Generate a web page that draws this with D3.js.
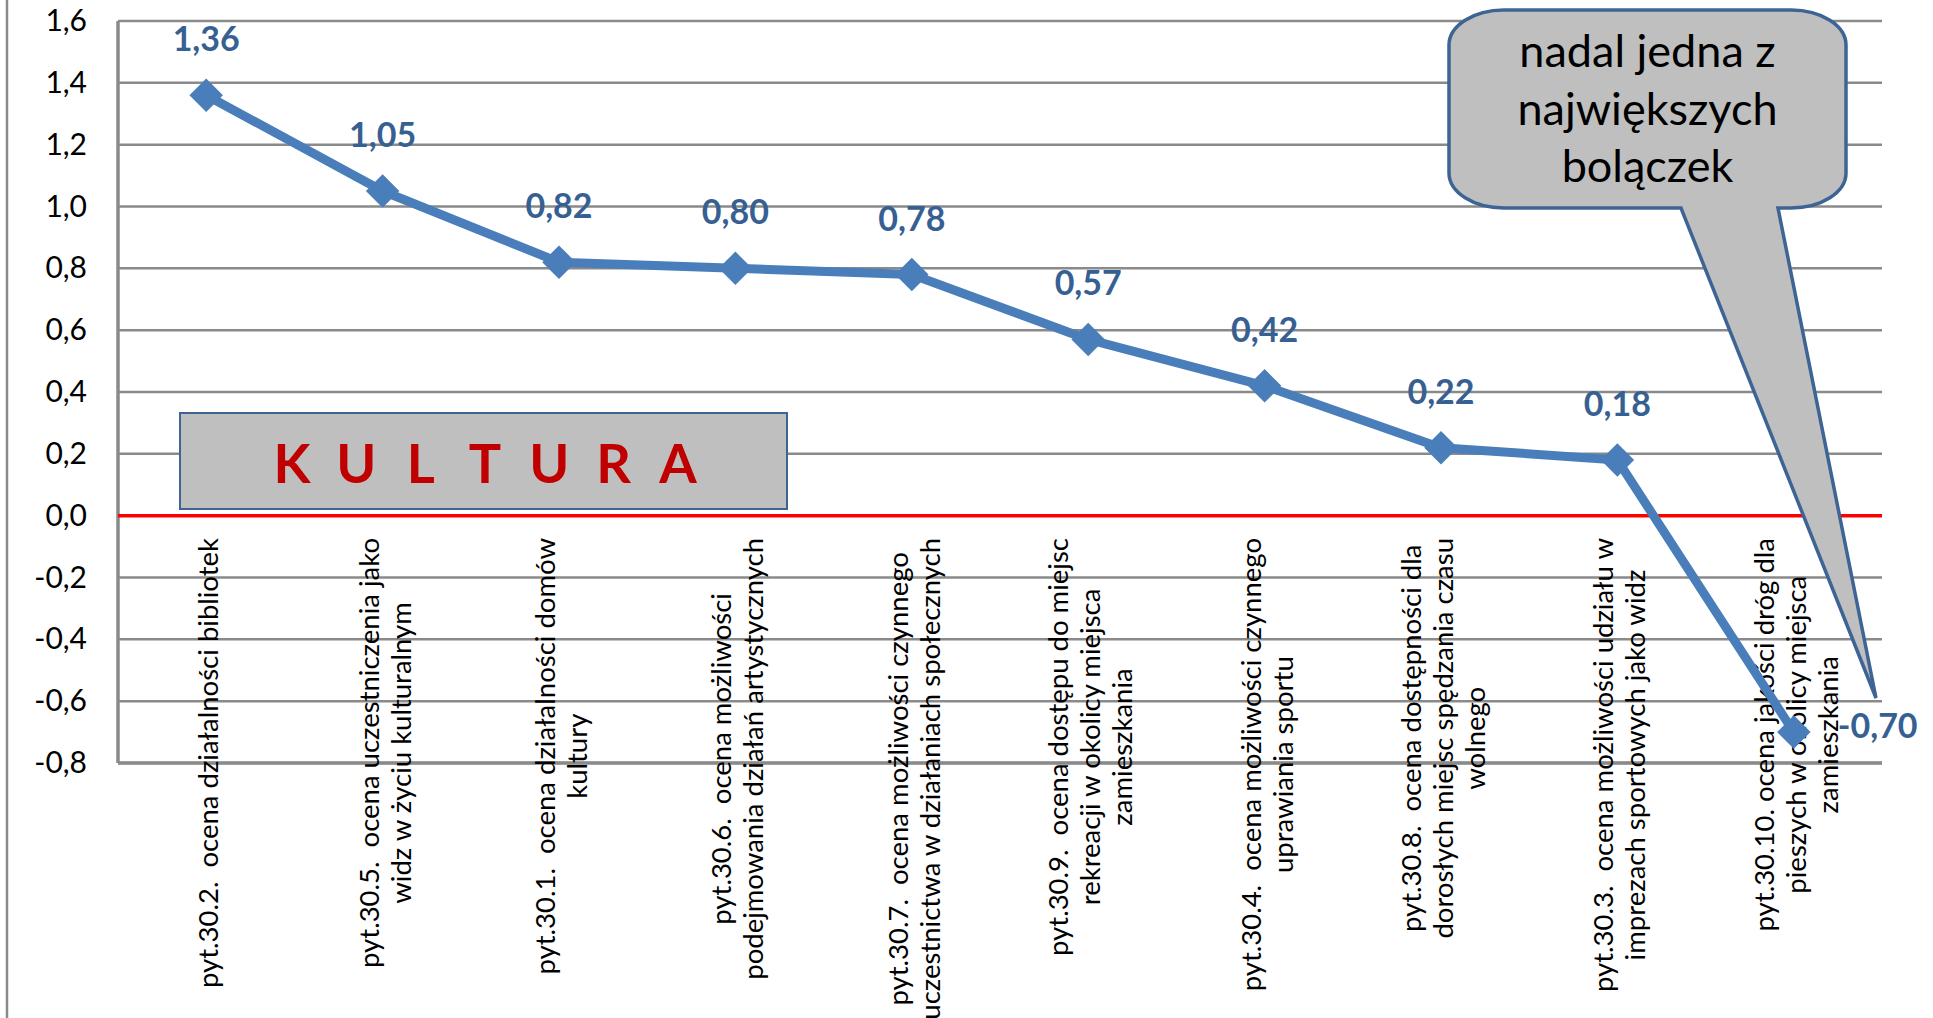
<!DOCTYPE html>
<meta charset="utf-8">
<style>
  body { margin: 0; background: #fff; }
  svg { display: block; font-family: Lato, "Open Sans", sans-serif; }
</style>
<script src="https://d3js.org/d3.v7.min.js"></script>
<div id="chart"></div>
<script>
// axis categories, line breaks as on the original axis
var categories = [
  "pyt.30.2.  ocena działalności bibliotek",
  "pyt.30.5.  ocena uczestniczenia jako\nwidz w życiu kulturalnym",
  "pyt.30.1.  ocena działalności domów\nkultury",
  "pyt.30.6.  ocena możliwości\npodejmowania działań artystycznych",
  "pyt.30.7.  ocena możliwości czynnego\nuczestnictwa w działaniach społecznych",
  "pyt.30.9.  ocena dostępu do miejsc\nrekreacji w okolicy miejsca\nzamieszkania",
  "pyt.30.4.  ocena możliwości czynnego\nuprawiania sportu",
  "pyt.30.8.  ocena dostępności dla\ndorosłych miejsc spędzania czasu\nwolnego",
  "pyt.30.3.  ocena możliwości udziału w\nimprezach sportowych jako widz",
  "pyt.30.10. ocena jakości dróg dla\npieszych w okolicy miejsca\nzamieszkania"
];
var values = [1.36, 1.05, 0.82, 0.80, 0.78, 0.57, 0.42, 0.22, 0.18, -0.70];
var yTicks = [-0.8, -0.6, -0.4, -0.2, 0, 0.2, 0.4, 0.6, 0.8, 1.0, 1.2, 1.4, 1.6];
var sectionTitle = "KULTURA";
var calloutLines = ["nadal jedna z", "największych", "bolączek"];

var width = 1933, height = 1018;
var margin = {top: 21, right: 51, bottom: 255, left: 118};

var pl = d3.formatLocale({decimal: ",", thousands: " ", grouping: [3], currency: ["", " zł"], minus: "-"});
var fmtTick = pl.format(".1f"), fmtLabel = pl.format(".2f");

var svg = d3.select("#chart").append("svg")
  .attr("width", width)
  .attr("height", height);

var x = d3.scaleBand()
  .domain(d3.range(categories.length))
  .range([margin.left, width - margin.right]);
var y = d3.scaleLinear()
  .domain([-0.8, 1.6])
  .range([height - margin.bottom, margin.top]);
var cx = function(i) { return x(i) + x.bandwidth() / 2; };

var grey = "#8a8a8a";

// outer chart border (only the left edge is visible)
svg.append("line")
  .attr("x1", 7).attr("x2", 7).attr("y1", 0).attr("y2", height)
  .attr("stroke", grey).attr("stroke-width", 2.5);

// gridlines
svg.append("g").selectAll("line")
  .data(yTicks.filter(function(d) { return d !== 0; }))
  .enter().append("line")
  .attr("x1", margin.left).attr("x2", width - margin.right)
  .attr("y1", function(d) { return y(d); }).attr("y2", function(d) { return y(d); })
  .attr("stroke", grey).attr("stroke-width", 2.5);

// axis lines
svg.append("line")
  .attr("x1", margin.left).attr("x2", margin.left)
  .attr("y1", y(1.6)).attr("y2", y(-0.8))
  .attr("stroke", grey).attr("stroke-width", 3.5);
svg.append("line")
  .attr("x1", margin.left).attr("x2", width - margin.right)
  .attr("y1", y(-0.8)).attr("y2", y(-0.8))
  .attr("stroke", grey).attr("stroke-width", 3.5);

// y axis labels
var yAxis = svg.append("g")
  .attr("transform", "translate(" + margin.left + ",0)")
  .call(d3.axisLeft(y).tickValues(yTicks).tickSize(0).tickPadding(31).tickFormat(fmtTick));
yAxis.select(".domain").remove();
yAxis.attr("font-family", null).attr("font-size", 30);
yAxis.selectAll("text").attr("fill", "#000");

// category labels, rotated, block top aligned at the axis
var labelTop = 538, lineGap = 32;
categories.forEach(function(c, i) {
  var lines = c.split("\n");
  var g = svg.append("g")
    .attr("transform", "translate(" + (cx(i) + 12) + "," + labelTop + ") rotate(-90)");
  var texts = g.selectAll("text")
    .data(lines).enter().append("text")
    .attr("font-size", 27.5)
    .attr("fill", "#000")
    .style("white-space", "pre")
    .attr("text-anchor", "middle")
    .attr("y", function(d, k) { return (k - (lines.length - 1) / 2) * lineGap; })
    .text(function(d) { return d; });
  var maxLen = d3.max(texts.nodes(), function(n) { return n.getComputedTextLength(); });
  texts.attr("x", -maxLen / 2);
});

// "KULTURA" box
var box = {x: 180, y: 413, w: 607, h: 96};
svg.append("rect")
  .attr("x", box.x).attr("y", box.y).attr("width", box.w).attr("height", box.h)
  .attr("fill", "#bfbfbf").attr("stroke", "#3e6496").attr("stroke-width", 2);
var letterX = d3.scalePoint()
  .domain(d3.range(sectionTitle.length))
  .range([292, 678]);
svg.append("g").selectAll("text")
  .data(sectionTitle.split(""))
  .enter().append("text")
  .attr("x", function(d, k) { return letterX(k); })
  .attr("y", 483)
  .attr("text-anchor", "middle")
  .attr("font-size", 54)
  .attr("font-weight", "bold")
  .attr("fill", "#c00000")
  .text(function(d) { return d; });

// zero line
svg.append("line")
  .attr("x1", margin.left).attr("x2", width - margin.right)
  .attr("y1", y(0)).attr("y2", y(0))
  .attr("stroke", "#ff0000").attr("stroke-width", 3.5);

// series
var blue = "#4a7ebb";
svg.append("path")
  .datum(values)
  .attr("fill", "none")
  .attr("stroke", blue)
  .attr("stroke-width", 9)
  .attr("stroke-linejoin", "round")
  .attr("d", d3.line().x(function(d, i) { return cx(i); }).y(function(d) { return y(d); }));

svg.append("g").selectAll("path")
  .data(values).enter().append("path")
  .attr("transform", function(d, i) { return "translate(" + cx(i) + "," + y(d) + ") rotate(45)"; })
  .attr("d", d3.symbol(d3.symbolSquare, 560))
  .attr("fill", blue);

// data labels
svg.append("g").selectAll("text")
  .data(values).enter().append("text")
  .attr("x", function(d, i) { return d < 0 ? cx(i) + 44 : cx(i); })
  .attr("y", function(d) { return d < 0 ? y(d) + 6 : y(d) - 44; })
  .attr("text-anchor", function(d) { return d < 0 ? "start" : "middle"; })
  .attr("font-size", 34)
  .attr("font-weight", "bold")
  .attr("fill", "#376092")
  .text(function(d) { return fmtLabel(d); });

// rounded callout
var co = {x0: 1449, y0: 10, x1: 1846, y1: 208, rx: 55, ry: 35, tailL: 1681, tailR: 1778, tipX: 1876, tipY: 698};
var calloutD = "M" + (co.x0 + co.rx) + "," + co.y0 +
  "H" + (co.x1 - co.rx) +
  "A" + co.rx + "," + co.ry + " 0 0 1 " + co.x1 + "," + (co.y0 + co.ry) +
  "V" + (co.y1 - co.ry) +
  "A" + co.rx + "," + co.ry + " 0 0 1 " + (co.x1 - co.rx) + "," + co.y1 +
  "H" + co.tailR +
  "L" + co.tipX + "," + co.tipY +
  "L" + co.tailL + "," + co.y1 +
  "H" + (co.x0 + co.rx) +
  "A" + co.rx + "," + co.ry + " 0 0 1 " + co.x0 + "," + (co.y1 - co.ry) +
  "V" + (co.y0 + co.ry) +
  "A" + co.rx + "," + co.ry + " 0 0 1 " + (co.x0 + co.rx) + "," + co.y0 + "Z";
svg.append("path")
  .attr("d", calloutD)
  .attr("fill", "#bfbfbf")
  .attr("stroke", "#3e6496")
  .attr("stroke-width", 3.5)
  .attr("stroke-linejoin", "miter");

svg.append("g").selectAll("text")
  .data(calloutLines).enter().append("text")
  .attr("x", (co.x0 + co.x1) / 2)
  .attr("y", function(d, k) { return 67 + k * 57.5; })
  .attr("text-anchor", "middle")
  .attr("font-size", 45)
  .attr("fill", "#000")
  .text(function(d) { return d; });
</script>
